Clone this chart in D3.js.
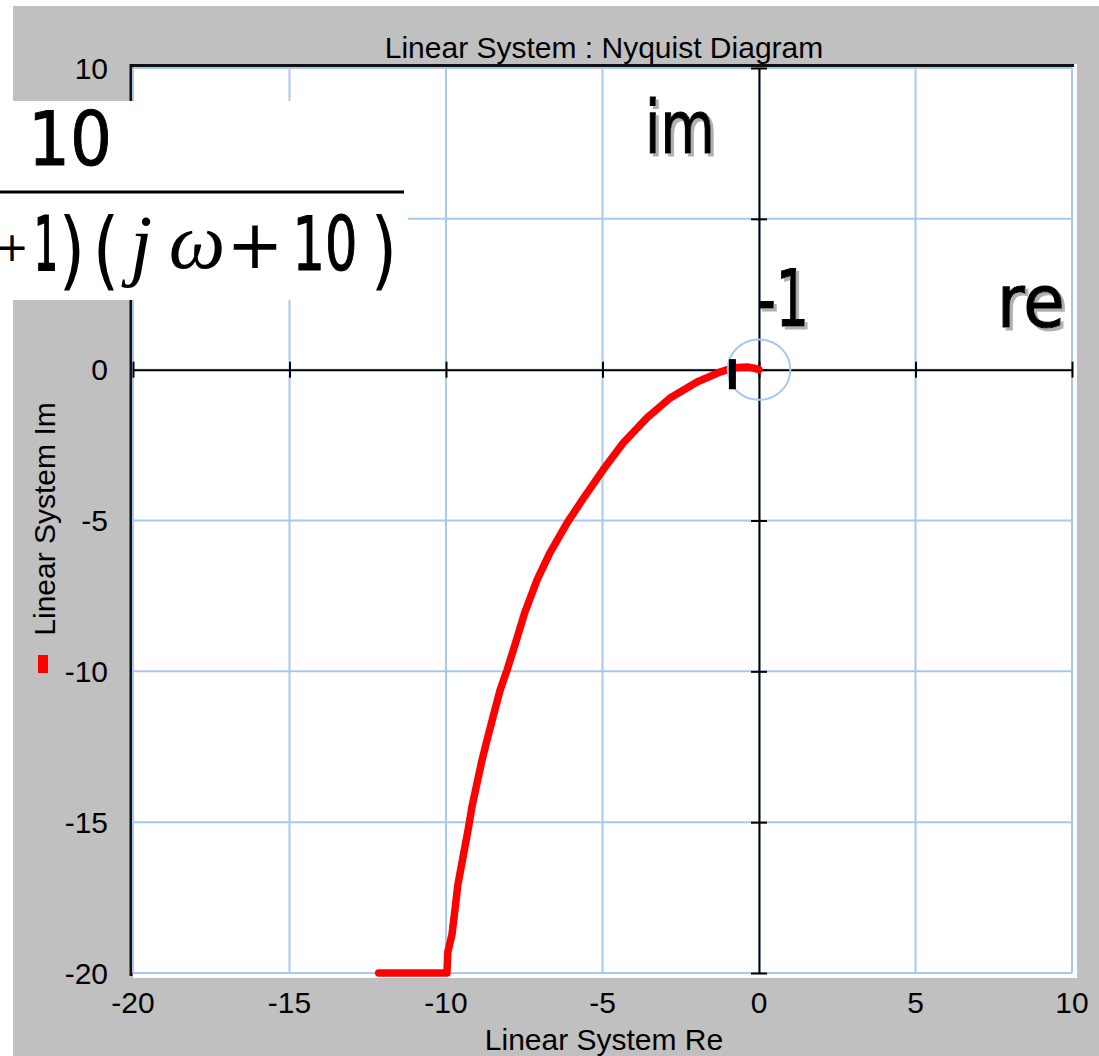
<!DOCTYPE html>
<html>
<head>
<meta charset="utf-8">
<script src="https://cdn.jsdelivr.net/npm/d3@7"></script>
<style>
    body { margin: 0; background: #ffffff; }
    svg { display: block; }
</style>
</head>
<body>
<div id="nyquist"></div>
<script>
var reVals = [-12.15, -9.97, -9.94, -9.81, -9.71, -9.62, -9.46, -9.30, -9.17, -9.01, -8.85, -8.69,
    -8.50, -8.27, -8.05, -7.80, -7.48, -7.09, -6.68, -6.13, -5.62, -4.98, -4.34, -3.58, -2.84,
    -1.98, -1.25, -0.83, -0.38, -0.19, 0.0];
var imVals = [-20, -20, -19.30, -18.73, -17.87, -17.07, -16.18, -15.29, -14.49, -13.71, -12.95, -12.28,
    -11.52, -10.62, -9.96, -9.13, -8.04, -6.97, -6.07, -5.08, -4.28, -3.32, -2.43, -1.60, -0.94,
    -0.41, -0.08, 0.06, 0.09, 0.06, 0.0];
var xTicks = [-20, -15, -10, -5, 0, 5, 10];
var yTicks = [-20, -15, -10, -5, 0, 5, 10];
var markerRe = -0.85;
var markerIm = [0.35, -0.65];
var circleRadius = 1;

var W = 1099, H = 1056;
var gridColor = "#a9c8ee";

var svg = d3.select("#nyquist")
    .append("svg")
    .attr("width", W)
    .attr("height", H);

// drop shadow for the hand written labels
svg.append("defs").append("filter")
    .attr("id", "shadow")
    .append("feDropShadow")
    .attr("dx", 3).attr("dy", 3)
    .attr("stdDeviation", 0.3)
    .attr("flood-color", "#b0b0b0")
    .attr("flood-opacity", 1);

var x = d3.scaleLinear().domain([-20, 10]).range([133, 1072]);
var y = d3.scaleLinear().domain([-20, 10]).range([973, 68]);

/* background */
svg.append("rect")
    .attr("x", 13).attr("y", 6)
    .attr("width", W - 13).attr("height", H - 6)
    .attr("fill", "#c0c0c0");

svg.append("rect")
    .attr("x", 133).attr("y", 64)
    .attr("width", 944).attr("height", 914)
    .attr("fill", "#ffffff");

// dark edge on top and left of the plot area
svg.append("path")
    .attr("d", "M131,976V65.5H1074")
    .attr("fill", "none")
    .attr("stroke", "#111")
    .attr("stroke-width", 3);

/* grid */
svg.append("g").selectAll("line")
    .data(xTicks)
    .enter().append("line")
    .attr("x1", function (d) { return x(d); })
    .attr("x2", function (d) { return x(d); })
    .attr("y1", y(10)).attr("y2", y(-20))
    .attr("stroke", gridColor)
    .attr("stroke-width", 2);

svg.append("g").selectAll("line")
    .data(yTicks)
    .enter().append("line")
    .attr("y1", function (d) { return y(d); })
    .attr("y2", function (d) { return y(d); })
    .attr("x1", x(-20)).attr("x2", x(10))
    .attr("stroke", gridColor)
    .attr("stroke-width", 2);

/* axes through the origin */
var axX = svg.append("g")
    .attr("transform", "translate(0," + y(0) + ")")
    .call(d3.axisBottom(x).tickValues(xTicks).tickSizeInner(16).tickSizeOuter(0).tickFormat(""));
axX.select(".domain").attr("stroke", "#000").attr("stroke-width", 2);
axX.selectAll(".tick line").attr("stroke", "#000").attr("stroke-width", 2)
    .attr("y1", -8).attr("y2", 8);

var axY = svg.append("g")
    .attr("transform", "translate(" + x(0) + ",0)")
    .call(d3.axisLeft(y).tickValues(yTicks).tickSizeInner(16).tickSizeOuter(0).tickFormat(""));
axY.select(".domain").attr("stroke", "#000").attr("stroke-width", 2);
axY.selectAll(".tick line").attr("stroke", "#000").attr("stroke-width", 2)
    .attr("x1", -8).attr("x2", 8);

/* tick labels */
svg.append("g").selectAll("text")
    .data(xTicks)
    .enter().append("text")
    .attr("x", function (d) { return x(d); })
    .attr("y", 1013)
    .attr("text-anchor", "middle")
    .style("font", "30px 'Liberation Sans', Arial, sans-serif")
    .text(function (d) { return d; });

svg.append("g").selectAll("text")
    .data(yTicks)
    .enter().append("text")
    .attr("x", 108)
    .attr("y", function (d) { return y(d); })
    .attr("dy", "0.35em")
    .attr("text-anchor", "end")
    .style("font", "30px 'Liberation Sans', Arial, sans-serif")
    .text(function (d) { return d; });

/* titles */
svg.append("text")
    .attr("x", 604).attr("y", 58)
    .attr("text-anchor", "middle")
    .style("font", "30px 'Liberation Sans', Arial, sans-serif")
    .text("Linear System : Nyquist Diagram");

svg.append("text")
    .attr("x", 604).attr("y", 1050)
    .attr("text-anchor", "middle")
    .style("font", "30px 'Liberation Sans', Arial, sans-serif")
    .text("Linear System Re");

svg.append("text")
    .attr("transform", "translate(55,519) rotate(-90)")
    .attr("text-anchor", "middle")
    .style("font", "30px 'Liberation Sans', Arial, sans-serif")
    .text("Linear System Im");

// legend swatch
svg.append("rect")
    .attr("x", 38).attr("y", 655)
    .attr("width", 10).attr("height", 18)
    .attr("fill", "#ff0000");

/* nyquist curve */
var pts = reVals.map(function (d, i) { return [d, imVals[i]]; });
var line = d3.line()
    .x(function (d) { return x(d[0]); })
    .y(function (d) { return y(d[1]); });

svg.append("path")
    .datum(pts)
    .attr("d", line)
    .attr("fill", "none")
    .attr("stroke", "#ff0000")
    .attr("stroke-width", 7.5)
    .attr("stroke-linejoin", "round")
    .attr("stroke-linecap", "round");

// unit circle round the origin
svg.append("ellipse")
    .attr("cx", x(0)).attr("cy", y(0))
    .attr("rx", x(circleRadius) - x(0))
    .attr("ry", y(0) - y(circleRadius))
    .attr("fill", "none")
    .attr("stroke", gridColor)
    .attr("stroke-width", 2);

// the -1 marker
svg.append("line")
    .attr("x1", x(markerRe)).attr("x2", x(markerRe))
    .attr("y1", y(markerIm[0])).attr("y2", y(markerIm[1]))
    .attr("stroke", "#000")
    .attr("stroke-width", 7);

/* transfer function box */
var tf = svg.append("g");
tf.append("rect")
    .attr("x", 0).attr("y", 101)
    .attr("width", 408).attr("height", 199)
    .attr("fill", "#ffffff");
tf.append("line")
    .attr("x1", 0).attr("x2", 404)
    .attr("y1", 192).attr("y2", 192)
    .attr("stroke", "#000").attr("stroke-width", 3);

var sans = "'DejaVu Sans', sans-serif";
var serifIt = "italic 80px 'Liberation Serif', 'DejaVu Serif', serif";
var tfParts = [
    {t: "10", x: 70, y: 165, f: "75px " + sans, sx: 0.88, sw: 1},
    {t: "+", x: 12, y: 261, f: "40px " + sans, sx: 1, sw: 0},
    {t: "1", x: 46, y: 270, f: "75px " + sans, sx: 0.5, sw: 2},
    {t: ")", x: 72, y: 279, f: "86px " + sans, sx: 0.8, sw: 0},
    {t: "(", x: 106, y: 279, f: "86px " + sans, sx: 0.8, sw: 0},
    {t: "j", x: 141, y: 271, f: serifIt, sx: 1, sw: 0},
    {t: "ω", x: 197, y: 268, f: serifIt, sx: 1, sw: 0},
    {t: "+", x: 255, y: 268, f: "68px " + sans, sx: 1, sw: 0},
    {t: "10", x: 325, y: 270, f: "75px " + sans, sx: 0.68, sw: 1.2},
    {t: ")", x: 384, y: 279, f: "86px " + sans, sx: 0.8, sw: 0}
];
tfParts.forEach(function (p) {
    tf.append("g")
        .attr("transform", "translate(" + p.x + "," + p.y + ") scale(" + p.sx + ",1)")
        .append("text")
        .attr("text-anchor", "middle")
        .style("font", p.f)
        .attr("fill", "#000")
        .attr("stroke", "#000")
        .attr("stroke-width", p.sw)
        .text(p.t);
});

/* hand labels */
var notes = [
    {t: "im", x: 645, y: 153, size: 73, len: 70},
    {t: "-1", x: 757, y: 326, size: 78, len: 52},
    {t: "re", x: 997, y: 327, size: 73, len: 68}
];
notes.forEach(function (n) {
    svg.append("text")
        .attr("x", n.x).attr("y", n.y)
        .attr("textLength", n.len)
        .attr("lengthAdjust", "spacingAndGlyphs")
        .attr("filter", "url(#shadow)")
        .style("font", n.size + "px " + sans)
        .attr("fill", "#000")
        .attr("stroke", "#000")
        .attr("stroke-width", 1.2)
        .text(n.t);
});
</script>
</body>
</html>
